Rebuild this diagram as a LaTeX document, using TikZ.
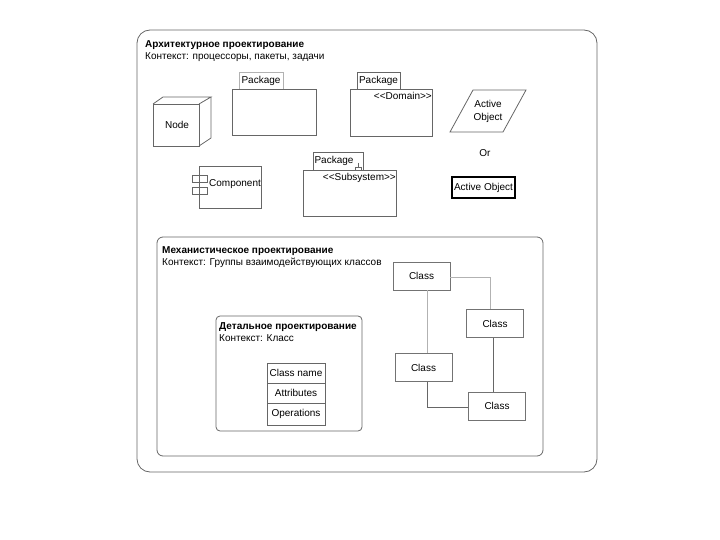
\documentclass[tikz,border=0pt]{standalone}
\usepackage{fontspec}
\setmainfont{Liberation Sans}
\begin{document}
\begin{tikzpicture}[x=1pt,y=-1pt,
  line/.style={draw=black!60, line width=0.8pt},
  lite/.style={draw=black!30, line width=0.8pt},
  txt/.style={font=\fontsize{10}{11.5}\selectfont, inner sep=0pt},
  ttl/.style={font=\fontsize{10}{11.5}\selectfont\bfseries, inner sep=0pt, anchor=base west},
  ctx/.style={font=\fontsize{10}{11.5}\selectfont, inner sep=0pt, anchor=base west},
  classbox/.style={draw=black!55, line width=0.8pt, fill=white, minimum width=57pt, minimum height=28pt, font=\fontsize{10}{11.5}\selectfont, inner sep=0pt}
]
\useasboundingbox (0,0) rectangle (720,540);
% outer frame
\draw[line, rounded corners=13pt] (137,30) rectangle (597,472);
\node[ttl] (t1) at (145,48) {Архитектурное проектирование};
\node[ctx] (c1) at (145,60) {Контекст: процессоры, пакеты, задачи};

% Node cube
\draw[line] (153,104) rectangle (199,146);
\draw[line] (153,104) -- (163,97) -- (211,97) -- (199,104);
\draw[line] (211,97) -- (211,138) -- (199,146);
\node[txt] (node) at (177,125) {Node};

% Package 1
\draw[lite] (239,72) rectangle (283,89);
\draw[line] (232,89) rectangle (316,135);
\node[txt] (p1) at (261,80.5) {Package};

% Package Domain
\draw[line] (357,72) rectangle (400,89);
\draw[line] (350,89) rectangle (432,136);
\node[txt] (p2) at (378.5,80.5) {Package};
\node[txt, anchor=north east] (dom) at (432,92) {<\kern0pt<Domain>\kern0pt>};

% Active object parallelogram
\draw[line] (450,132) -- (473,90) -- (526,90) -- (503,132) -- cycle;
\node[txt, align=center, font=\fontsize{10}{13}\selectfont] (ao) at (488,111) {Active\\Object};
\node[txt] (or) at (485,153) {Or};

% Component
\draw[line] (199,166) rectangle (261,208);
\draw[line] (192,175) rectangle (207,182);
\draw[line] (192,187) rectangle (207,194);
\node[txt, anchor=west] (comp) at (209,184) {Component};

% Subsystem package
\draw[line] (313,152) rectangle (363,170);
\draw[line] (303,170) rectangle (396,216);
\node[txt] (p3) at (334,160.5) {Package};
\draw[line, line width=0.6pt] (358,163) -- (358,167) (355,167) -- (361,167) (355,167) -- (355,170) (361,167) -- (361,170);
\node[txt, anchor=north east] (sub) at (396,173) {<\kern0pt<Subsystem>\kern0pt>};

% Active Object box
\node[draw=black, line width=1.8pt, minimum width=63pt, minimum height=21pt, inner sep=0pt, font=\fontsize{10}{11.5}\selectfont] (aob) at (483.5,187.5) {Active Object};

% Mechanistic frame
\draw[line, rounded corners=6pt] (157,237) rectangle (543,456);
\node[ttl] (t2) at (162,253) {Механистическое проектирование};
\node[ctx] (c2) at (162,265) {Контекст: Группы взаимодействующих классов};

% Classes
\node[classbox] (k1) at (421.5,276) {Class};
\node[classbox] (k2) at (495,323.5) {Class};
\node[classbox] (k3) at (423.5,367.5) {Class};
\node[classbox] (k4) at (497,406) {Class};
\draw[lite] (k1.east |- 0,277) -| (k2.north -| 490,0);
\draw[lite] (k1.south -| 427,0) -- (k3.north -| 427,0);
\draw[line] (k2.south -| 493,0) -- (k4.north -| 493,0);
\draw[line] (k3.south -| 427,0) |- (k4.west |- 0,407);

% Detailed frame
\draw[line, rounded corners=4pt] (216,316) rectangle (362,431);
\node[ttl] (t3) at (219,329) {Детальное проектирование};
\node[ctx] (c3) at (219,341) {Контекст: Класс};

% Class table
\draw[line] (267,363) rectangle (325,425);
\draw[line] (267,383) -- (325,383);
\draw[line] (267,403) -- (325,403);
\node[txt] (cn) at (296,373) {Class name};
\node[txt] (at) at (296,393) {Attributes};
\node[txt] (op) at (296,414) {Operations};
\end{tikzpicture}
\end{document}
